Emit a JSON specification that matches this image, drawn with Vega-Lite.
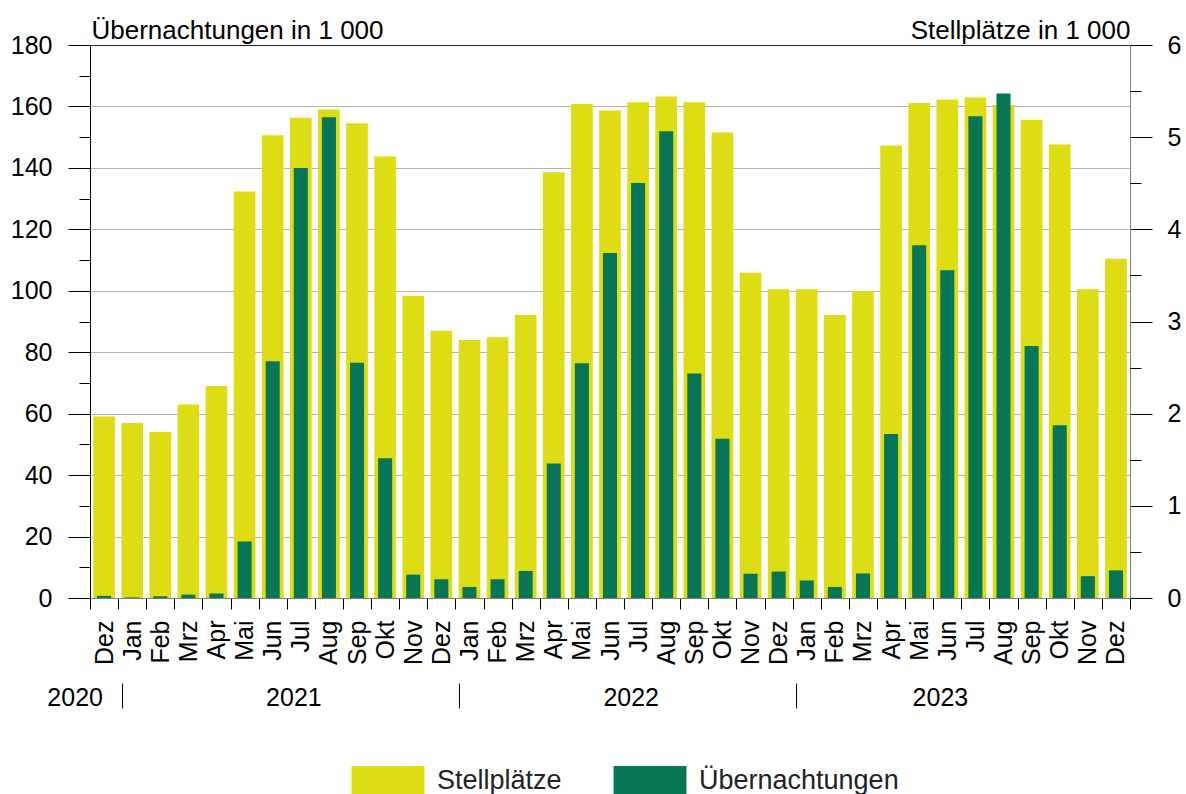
{
  "$schema": "https://vega.github.io/schema/vega-lite/v6.json",
  "width": 1040,
  "height": 553,
  "autosize": {"type": "none"},
  "padding": {"left": 90, "top": 45, "right": 56, "bottom": 196},
  "background": "white",
  "config": {"font": "Liberation Sans", "view": {"stroke": null}, "axis": {"labelColor": "black", "tickColor": "black", "titleFontWeight": "normal", "titleColor": "black"}},
  "data": {"values": [
    {"m": "2020-12", "stell": 1.97, "ueb": 0.7},
    {"m": "2021-01", "stell": 1.90, "ueb": 0.2},
    {"m": "2021-02", "stell": 1.80, "ueb": 0.6},
    {"m": "2021-03", "stell": 2.10, "ueb": 1.1},
    {"m": "2021-04", "stell": 2.30, "ueb": 1.5},
    {"m": "2021-05", "stell": 4.41, "ueb": 18.4},
    {"m": "2021-06", "stell": 5.02, "ueb": 77.1},
    {"m": "2021-07", "stell": 5.21, "ueb": 140.0},
    {"m": "2021-08", "stell": 5.30, "ueb": 156.5},
    {"m": "2021-09", "stell": 5.15, "ueb": 76.6},
    {"m": "2021-10", "stell": 4.79, "ueb": 45.5},
    {"m": "2021-11", "stell": 3.28, "ueb": 7.6},
    {"m": "2021-12", "stell": 2.90, "ueb": 6.1},
    {"m": "2022-01", "stell": 2.80, "ueb": 3.6},
    {"m": "2022-02", "stell": 2.83, "ueb": 6.1},
    {"m": "2022-03", "stell": 3.07, "ueb": 8.8},
    {"m": "2022-04", "stell": 4.62, "ueb": 43.8},
    {"m": "2022-05", "stell": 5.36, "ueb": 76.4},
    {"m": "2022-06", "stell": 5.29, "ueb": 112.3},
    {"m": "2022-07", "stell": 5.38, "ueb": 135.1},
    {"m": "2022-08", "stell": 5.44, "ueb": 151.9},
    {"m": "2022-09", "stell": 5.38, "ueb": 73.1},
    {"m": "2022-10", "stell": 5.05, "ueb": 51.8},
    {"m": "2022-11", "stell": 3.53, "ueb": 7.9},
    {"m": "2022-12", "stell": 3.35, "ueb": 8.6},
    {"m": "2023-01", "stell": 3.35, "ueb": 5.7},
    {"m": "2023-02", "stell": 3.07, "ueb": 3.6},
    {"m": "2023-03", "stell": 3.33, "ueb": 8.0},
    {"m": "2023-04", "stell": 4.91, "ueb": 53.4},
    {"m": "2023-05", "stell": 5.37, "ueb": 114.8},
    {"m": "2023-06", "stell": 5.41, "ueb": 106.7},
    {"m": "2023-07", "stell": 5.43, "ueb": 156.8},
    {"m": "2023-08", "stell": 5.35, "ueb": 164.2},
    {"m": "2023-09", "stell": 5.19, "ueb": 82.0},
    {"m": "2023-10", "stell": 4.92, "ueb": 56.2},
    {"m": "2023-11", "stell": 3.35, "ueb": 7.1},
    {"m": "2023-12", "stell": 3.68, "ueb": 9.0}
  ]},
  "layer": [
    {
      "mark": {"type": "bar", "width": {"band": 0.77}},
      "encoding": {
        "x": {"field": "m", "type": "ordinal", "sort": null, "scale": {"paddingInner": 0, "paddingOuter": 0},
          "axis": {"orient": "bottom", "title": null, "tickBand": "extent", "tickSize": 11, "tickColor": "black", "labelAngle": -90, "labelAlign": "right", "labelBaseline": "middle", "labelPadding": 11, "labelFontSize": 25, "labelOverlap": false, "labelExpr": "substring('JanFebMrzAprMaiJunJulAugSepOktNovDez', (toNumber(substring(datum.value,5,7))-1)*3, toNumber(substring(datum.value,5,7))*3)", "domainColor": "#808080", "grid": false}},
        "y": {"field": "stell", "type": "quantitative", "scale": {"domain": [0, 6], "nice": false},
          "axis": {"orient": "right", "values": [0, 1, 2, 3, 4, 5, 6], "grid": false, "tickSize": 22,
            "labelPadding": 15, "labelFontSize": 25, "labelOverlap": false, "domainColor": "#808080",
            "title": "Stellplätze in 1 000", "titleAngle": 0, "titleAlign": "right", "titleBaseline": "alphabetic", "titleX": 0, "titleY": -7, "titleFontSize": 26}},
        "color": {"datum": "Stellplätze", "type": "nominal",
          "scale": {"domain": ["Stellplätze", "Übernachtungen"], "range": ["#DEDC12", "#067657"]},
          "legend": {"title": null, "orient": "none", "legendX": 283, "legendY": 721, "direction": "horizontal", "symbolType": "M-2.43,-1H2.43V1H-2.43Z", "symbolSize": 900, "symbolStrokeWidth": 0, "symbolOpacity": 1, "labelFontSize": 27, "labelLimit": 400, "labelOffset": 34, "columnPadding": 51, "labelColor": "#222222"}}
      }
    },
    {
      "mark": {"type": "bar", "width": {"band": 0.5}},
      "encoding": {
        "x": {"field": "m", "type": "ordinal", "sort": null, "scale": {"paddingInner": 0, "paddingOuter": 0}, "axis": null},
        "y": {"field": "ueb", "type": "quantitative", "scale": {"domain": [0, 180], "nice": false},
          "axis": {"orient": "left", "values": [0, 20, 40, 60, 80, 100, 120, 140, 160, 180], "tickSize": 22,
            "labelPadding": 16, "labelFontSize": 25, "labelOverlap": false,
            "grid": true, "gridColor": {"condition": {"test": "datum.value === 180", "value": "#222222"}, "value": "#b4b4b4"}, "domainColor": "black",
            "title": "Übernachtungen in 1 000", "titleAngle": 0, "titleAlign": "left", "titleBaseline": "alphabetic", "titleX": 1, "titleY": -7, "titleFontSize": 26}},
        "color": {"datum": "Übernachtungen", "type": "nominal"}
      }
    },
    {
      "mark": {"type": "point", "opacity": 0},
      "encoding": {
        "y": {"field": "ueb", "type": "quantitative", "scale": {"domain": [0, 180], "nice": false},
          "axis": {"orient": "left", "values": [10, 30, 50, 70, 90, 110, 130, 150, 170], "tickSize": 11, "labels": false, "domain": false, "grid": false, "title": null}}
      }
    },
    {
      "mark": {"type": "point", "opacity": 0},
      "encoding": {
        "y": {"field": "stell", "type": "quantitative", "scale": {"domain": [0, 6], "nice": false},
          "axis": {"orient": "right", "values": [0.5, 1.5, 2.5, 3.5, 4.5, 5.5], "tickSize": 11, "labels": false, "domain": false, "grid": false, "title": null}}
      }
    },
    {
      "mark": {"type": "point", "opacity": 0},
      "encoding": {
        "x": {"field": "m", "type": "ordinal", "sort": null, "scale": {"paddingInner": 0, "paddingOuter": 0},
          "axis": {"orient": "bottom", "title": null, "values": ["2020-12", "2021-01", "2021-07", "2022-01", "2022-07", "2023-01", "2023-06"],
            "tickOffset": -10.4, "offset": 85, "domain": false, "grid": false, "tickSize": 25, "tickColor": "black",
            "tickOpacity": {"condition": {"test": "substring(datum.value,5,7) === '01'", "value": 1}, "value": 0},
            "labelAngle": 0, "labelAlign": "center", "labelBaseline": "top", "labelPadding": -23, "labelFontSize": 25, "labelOverlap": false,
            "labelExpr": "datum.value === '2020-12' ? '2020' : datum.value === '2021-07' ? '2021' : datum.value === '2022-07' ? '2022' : datum.value === '2023-06' ? '2023' : ''",
            "labelOffset": {"condition": {"test": "datum.value === '2020-12'", "value": -19}, "value": 3}}}
      }
    }
  ],
  "resolve": {"scale": {"x": "independent", "y": "independent"}}
}
